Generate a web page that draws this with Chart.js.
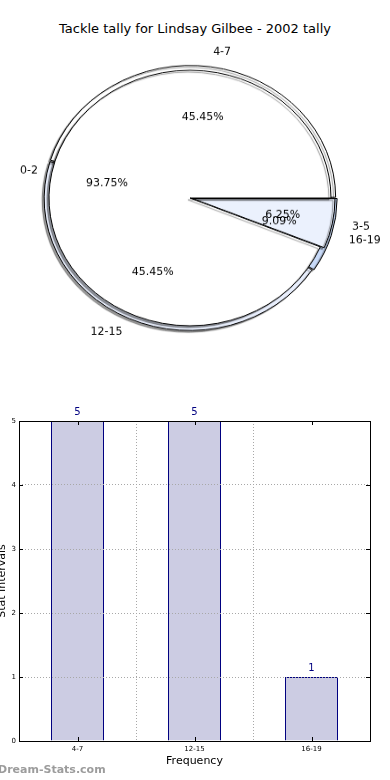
<!DOCTYPE html>
<html lang="en">
<head>
  <meta charset="UTF-8">
  <title>Tackle tally for Lindsay Gilbee - 2002 tally</title>
  <script src="https://cdn.jsdelivr.net/npm/chart.js"></script>
  <style>
    body { margin: 0; width: 390px; height: 780px; overflow: hidden; background: #fff; position: relative; font-family: "DejaVu Sans", sans-serif; }
    #title { position: absolute; top: 21px; left: 0; width: 390px; text-align: center; font-size: 13px; color: #000; }
    .pieBox { position: absolute; left: -5px; top: 18px; width: 390px; height: 360px; transform: scaleY(0.906); transform-origin: 50% 50%; }
    .pieBox canvas { position: absolute; left: 0; top: 0; }
    #barBox { position: absolute; left: -4px; top: 400px; width: 394px; height: 380px; }
    #mark { position: absolute; left: -2px; top: 763px; font-size: 11px; font-weight: bold; color: #9c9c9c; }
  </style>
</head>
<body>

<div id="title">Tackle tally for Lindsay Gilbee - 2002 tally</div>
<div class="pieBox"><canvas id="pieB" width="390" height="360"></canvas></div>
<div class="pieBox"><canvas id="pieA" width="390" height="360"></canvas></div>
<div id="barBox"><canvas id="bar" width="394" height="380"></canvas></div>
<div id="mark">Dream-Stats.com</div>

<script>
// first pie (matplotlib order, counter-clockwise from 3 o'clock)
const pieALabels = ["0-2", "3-5"];
const pieAValues = [15, 1];
const pieAColors = ["#ffffff", "#ebf1fd"];
const pieAExplode = [0, 10];

// second pie, drawn underneath
const pieBLabels = ["4-7", "12-15", "16-19"];
const pieBValues = [5, 5, 1];
const pieBColors = ["#ffffff", "#e8eefc", "#c8daf8"];
const pieBExplode = [3, 3, 6];

// bar chart
const barLabels = ["4-7", "12-15", "16-19"];
const barValues = [5, 5, 1];
const yTicks = [0, 1, 2, 3, 4, 5];

const SQUASH = 0.906;
const font = "DejaVu Sans";

// Chart.js goes clockwise, so reverse the order and start at 3 o'clock
function rev(a) { return a.slice().reverse(); }

const shadowPlugin = {
  id: "shadow",
  beforeDatasetDraw(chart) {
    const ctx = chart.ctx;
    ctx.save();
    ctx.shadowColor = "rgba(0,0,0,0.4)";
    ctx.shadowOffsetX = -2;
    ctx.shadowOffsetY = 2;
    ctx.shadowBlur = 1;
  },
  afterDatasetDraw(chart) {
    chart.ctx.restore();
  }
};

// labels of every pie go on the top canvas so none get covered
const pies = [];
function drawPieText(ctx, chart) {
  const meta = chart.getDatasetMeta(0);
  const ds = chart.data.datasets[0];
  const total = ds.data.reduce((a, b) => a + b, 0);
  const put = (txt, x, y, align) => {
    ctx.save();
    ctx.translate(x, y);
    ctx.scale(1, 1 / SQUASH);
    ctx.textAlign = align;
    ctx.fillText(txt, 0, 0);
    ctx.restore();
  };
  meta.data.forEach((arc, i) => {
    const p = arc.getProps(["x", "y", "startAngle", "endAngle", "outerRadius"], true);
    const off = ds.offset[i] || 0;
    const mid = (p.startAngle + p.endAngle) / 2;
    const c = Math.cos(mid), s = Math.sin(mid);
    const cx = p.x + c * off, cy = p.y + s * off;
    const r = p.outerRadius;
    const pct = (ds.data[i] / total * 100).toFixed(2) + "%";
    put(chart.data.labels[i], cx + 1.1 * r * c, cy + 1.1 * r * s, c > 0 ? "left" : "right");
    put(pct, cx + 0.6 * r * c, cy + 0.6 * r * s, "center");
  });
}
const pieTextPlugin = {
  id: "pieText",
  afterDraw(chart) {
    if (chart.canvas.id !== "pieA") return;
    const ctx = chart.ctx;
    ctx.save();
    ctx.fillStyle = "#000";
    ctx.font = "11px '" + font + "'";
    ctx.textBaseline = "middle";
    pies.concat([chart]).forEach(p => drawPieText(ctx, p));
    ctx.restore();
  }
};

function makePie(id, labels, values, colors, explode, radius) {
  return new Chart(document.getElementById(id), {
    type: "pie",
    data: {
      labels: rev(labels),
      datasets: [{
        data: rev(values),
        backgroundColor: rev(colors),
        offset: rev(explode),
        borderColor: "#000",
        borderWidth: 1,
        borderJoinStyle: "miter"
      }]
    },
    options: {
      responsive: false,
      animation: false,
      rotation: 90,
      radius: radius,
      plugins: { legend: { display: false }, tooltip: { enabled: false } }
    },
    plugins: [shadowPlugin, pieTextPlugin]
  });
}

pies.push(makePie("pieB", pieBLabels, pieBValues, pieBColors, pieBExplode, 145));
makePie("pieA", pieALabels, pieAValues, pieAColors, pieAExplode, 141);

// frame, inward ticks and value labels for the bar chart
const barExtras = {
  id: "barExtras",
  afterDraw(chart) {
    const ctx = chart.ctx;
    const a = chart.chartArea;
    const x = chart.scales.x, y = chart.scales.y;
    ctx.save();
    ctx.strokeStyle = "#000";
    ctx.lineWidth = 1;
    ctx.strokeRect(Math.round(a.left) + 0.5, Math.round(a.top) + 0.5, Math.round(a.width), Math.round(a.height));
    ctx.beginPath();
    yTicks.forEach(v => {
      const py = Math.round(y.getPixelForValue(v)) + 0.5;
      ctx.moveTo(a.left, py); ctx.lineTo(a.left + 4, py);
      ctx.moveTo(a.right, py); ctx.lineTo(a.right - 4, py);
    });
    barLabels.forEach((l, i) => {
      const px = Math.round(x.getPixelForValue(i)) + 0.5;
      ctx.moveTo(px, a.bottom); ctx.lineTo(px, a.bottom - 4);
      ctx.moveTo(px, a.top); ctx.lineTo(px, a.top + 4);
    });
    ctx.stroke();
    ctx.fillStyle = "#000080";
    ctx.font = "10px '" + font + "'";
    ctx.textAlign = "center";
    ctx.textBaseline = "middle";
    chart.getDatasetMeta(0).data.forEach((bar, i) => {
      ctx.fillText(String(barValues[i]), bar.x, bar.y - 9);
    });
    ctx.restore();
  }
};

new Chart(document.getElementById("bar"), {
  type: "bar",
  data: {
    labels: barLabels,
    datasets: [{
      data: barValues,
      backgroundColor: "#cccce3",
      borderColor: "#000080",
      borderWidth: 1,
      categoryPercentage: 1,
      barPercentage: 0.453
    }]
  },
  options: {
    responsive: false,
    animation: false,
    layout: { padding: { top: 21, right: 20, bottom: 12, left: 0 } },
    plugins: { legend: { display: false }, tooltip: { enabled: false } },
    scales: {
      x: {
        grid: { color: "#a8a8a8", drawTicks: false, z: 1 },
        border: { display: false, dash: [1, 2] },
        ticks: { color: "#000", font: { family: font, size: 7 }, padding: 4 },
        title: { display: true, text: "Frequency", color: "#000", font: { family: font, size: 11 }, padding: { top: 0, bottom: 0 } },
        afterFit(s) { s.height = 27; }
      },
      y: {
        min: 0, max: 5,
        grid: { color: "#a8a8a8", drawTicks: false, z: 1 },
        border: { display: false, dash: [1, 2] },
        ticks: { stepSize: 1, color: "#000", font: { family: font, size: 7 }, padding: 3 },
        title: { display: true, text: "Stat Intervals", color: "#000", font: { family: font, size: 11 }, padding: { top: 0, bottom: 0 } },
        afterFit(s) { s.width = 23; }
      }
    }
  },
  plugins: [barExtras]
});
</script>

</body>
</html>
